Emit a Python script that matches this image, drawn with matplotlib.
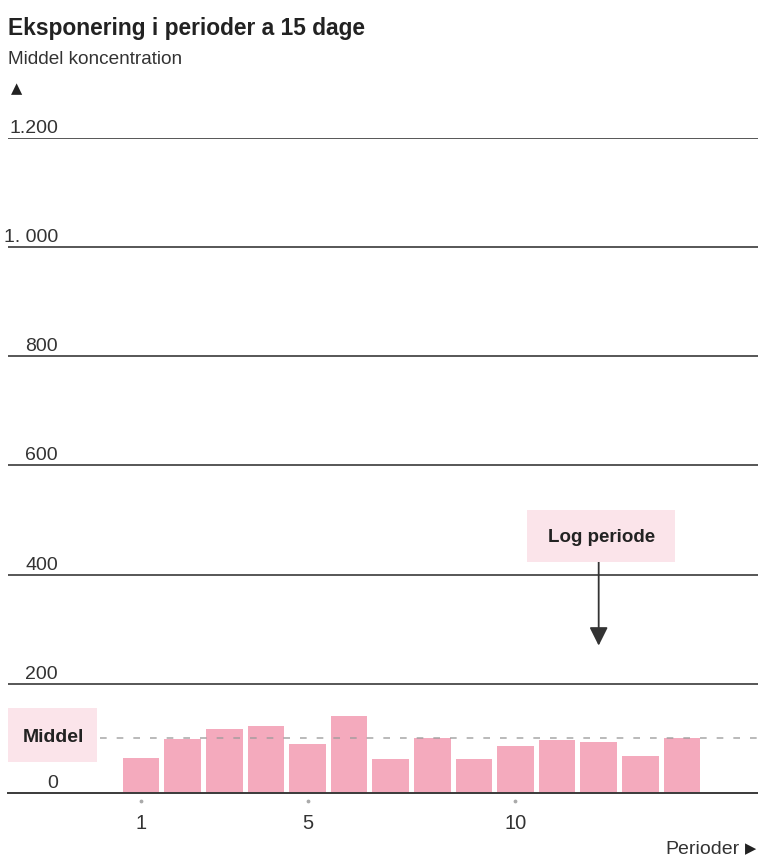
import matplotlib.pyplot as plt
from matplotlib.patches import Rectangle
from matplotlib import transforms

# data
periods = list(range(1, 15))
values = [64, 99, 118, 123, 90, 141, 62, 101, 62, 87, 98, 93, 68, 101]
middel = 100
log_period = 12
y_ticks = [0, 200, 400, 600, 800, 1000, 1200]
y_labels = ['0', '200', '400', '600', '800', '1. 000', '1.200']
x_ticks = [1, 5, 10]

W, H = 758, 866
plt.rcParams['font.family'] = ['Liberation Sans', 'DejaVu Sans']

fig = plt.figure(figsize=(W / 100, H / 100), dpi=100)


def fx(x):
    return x / W


def fy(y):
    return 1 - y / H


ax = fig.add_axes([fx(8), fy(793), fx(750), (793 - 138) / H])
ax.set_ylim(0, 1200)
ax.set_xlim(-2.2, 15.83)

line_col = '#3a3a3a'
for t in y_ticks[1:]:
    ax.axhline(t, color=line_col, lw=1.2, zorder=1)

ax.bar(periods, values, width=0.88, color='#F4AABD', zorder=2)
ax.axhline(middel, xmin=(100 - 8) / 750, xmax=1, color='#9a9a9a', lw=1.2,
           dashes=(4, 6), alpha=0.8, zorder=3)

for s in ['top', 'right', 'left']:
    ax.spines[s].set_visible(False)
ax.spines['bottom'].set_color(line_col)
ax.spines['bottom'].set_linewidth(1.4)
ax.spines['bottom'].set_zorder(4)
ax.set_yticks([])
ax.set_xticks(x_ticks)
ax.set_xticklabels([str(t) for t in x_ticks], fontsize=14.5, color='#333333')
ax.tick_params(axis='x', length=0, pad=15)

# little tick dots below the axis
dot_trans = transforms.blended_transform_factory(ax.transData, ax.transAxes)
ax.scatter(x_ticks, [-8 / 655] * len(x_ticks), s=3, color='#aaaaaa',
           transform=dot_trans, clip_on=False, zorder=5)

# y labels sitting above the lines
trans = transforms.offset_copy(ax.get_yaxis_transform(), fig=fig, x=0, y=5, units='dots')
for t, lab in zip(y_ticks, y_labels):
    ax.text((58 - 8) / 750, t, lab, transform=trans, ha='right', va='baseline',
            fontsize=14, color='#333333', zorder=5)

# Middel box
fig.patches.append(Rectangle((fx(8), fy(762)), fx(89), 54 / H, transform=fig.transFigure,
                             fc='#FBE4EA', ec='none', zorder=0))
fig.text(fx(53), fy(737), 'Middel', ha='center', va='center', fontsize=14,
         fontweight='bold', color='#222222')

# Log periode box and arrow
fig.patches.append(Rectangle((fx(527), fy(562)), fx(148), 52 / H, transform=fig.transFigure,
                             fc='#FBE4EA', ec='none', zorder=0))
fig.text(fx(602), fy(537), 'Log periode', ha='center', va='center', fontsize=13.5,
         fontweight='bold', color='#222222')
ax.annotate('', xy=(log_period, 270), xytext=(log_period, 428),
            arrowprops=dict(arrowstyle='-|>', mutation_scale=28, color='#333333', lw=1.3,
                            shrinkA=0, shrinkB=0),
            zorder=6)

# titles
fig.text(fx(8), fy(28), 'Eksponering i perioder a 15 dage', ha='left', va='center',
         fontsize=16.4, fontweight='bold', color='#222222')
fig.text(fx(8), fy(60), 'Middel koncentration', ha='left', va='center', fontsize=13.7,
         color='#333333')
fig.text(fx(11), fy(89), '\u25b2', ha='left', va='center', fontsize=10.5,
         family='DejaVu Sans', color='#222222')
fig.text(fx(740), fy(849), 'Perioder', ha='right', va='center', fontsize=14,
         color='#333333')
fig.text(fx(745), fy(849), '\u25b6', ha='left', va='center', fontsize=10.5,
         family='DejaVu Sans', color='#222222')

fig.savefig('out.png', dpi=100)
